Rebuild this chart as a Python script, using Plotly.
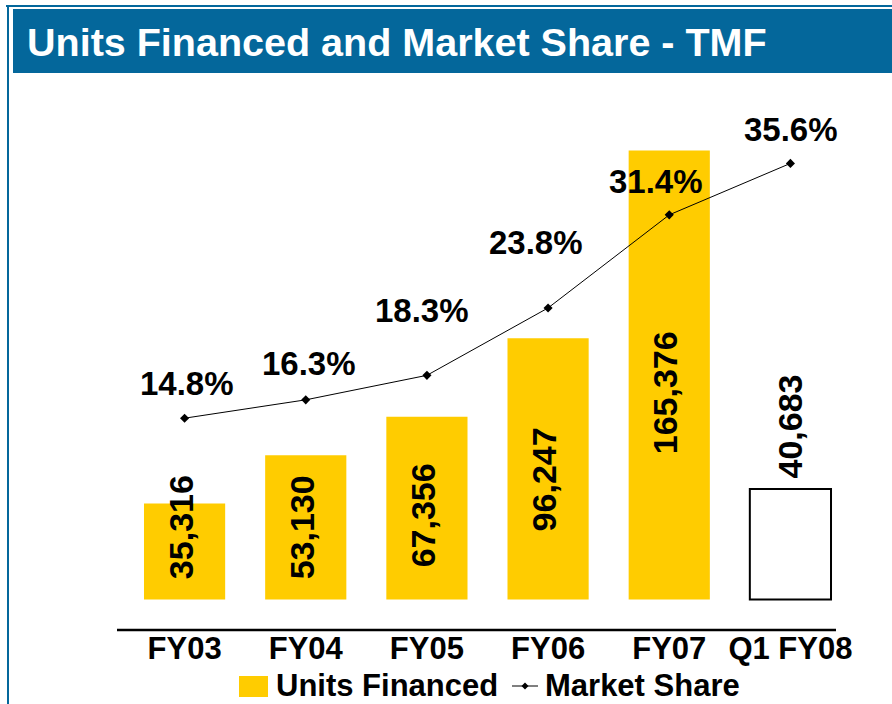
import plotly.graph_objects as go

# ---- data ----
categories = ["FY03", "FY04", "FY05", "FY06", "FY07", "Q1 FY08"]
units_financed = [35316, 53130, 67356, 96247, 165376, 40683]
market_share = [14.8, 16.3, 18.3, 23.8, 31.4, 35.6]
title_text = "Units Financed and Market Share - TMF"

# ---- layout geometry (pixels) ----
W, H = 892, 704
L, R, T, B = 124, 41, 100, 80
PW, PH = W - L - R, H - T - B
BOTTOM = H - B          # pixel y of plot-area bottom
ZERO_Y = 599.5          # pixel y of value zero (bars' base)
U_SCALE = 449 / 165376  # px per unit financed
S_SCALE = 12.25         # px per percent of share

# label placement offsets (pixels) for the market-share labels
share_label_dx = [2, 3, -5, -12, -13, 1]
share_label_dy = [35, 36, 65, 65, 33, 34]

def px(x):
    return (x - L) / PW

def py(y):
    return (BOTTOM - y) / PH

BLUE = "#04679B"
YELLOW = "#FFCC00"
FONT = "Liberation Sans, Arial, sans-serif"

n_full = len(categories) - 1
bar_colors = [YELLOW] * n_full + ["white"]
bar_line_colors = [YELLOW] * n_full + ["black"]
bar_line_widths = [0] * n_full + [2]

fig = go.Figure()
fig.add_trace(go.Bar(
    x=categories, y=units_financed, name="Units Financed",
    marker=dict(color=bar_colors, line=dict(color=bar_line_colors, width=bar_line_widths)),
    yaxis="y", showlegend=False, hoverinfo="x+y",
))
fig.add_trace(go.Scatter(
    x=categories, y=market_share, name="Market Share", mode="lines+markers",
    line=dict(color="black", width=1),
    marker=dict(symbol="diamond", size=7, color="black"),
    yaxis="y2", showlegend=False,
))

annotations = []
# market share labels
for c, v, sx, sy in zip(categories, market_share, share_label_dx, share_label_dy):
    annotations.append(dict(
        x=c, y=v, xref="x", yref="y2", text=f"{v:.1f}%", showarrow=False,
        xshift=sx, yshift=sy, yanchor="middle", xanchor="center",
        font=dict(family=FONT, size=33, color="black", weight="bold"),
    ))
# bar value labels
for i, (c, v) in enumerate(zip(categories, units_financed)):
    if i < n_full:
        annotations.append(dict(
            x=c, y=max(v * 0.46, 26500), xref="x", yref="y", text=f"{v:,}",
            showarrow=False, textangle=-90, yanchor="middle", xanchor="center",
            xshift=-4,
            font=dict(family=FONT, size=34, color="black", weight="bold"),
        ))
    else:
        annotations.append(dict(
            x=c, y=v, xref="x", yref="y", text=f"{v:,}",
            showarrow=False, textangle=-90, yanchor="bottom", xanchor="center",
            yshift=9,
            font=dict(family=FONT, size=34, color="black", weight="bold"),
        ))
# title
annotations.append(dict(
    x=px(25), y=py(42), xref="paper", yref="paper", text=title_text,
    showarrow=False, xanchor="left", yanchor="middle",
    font=dict(family=FONT, size=39.5, color="white", weight="bold"),
))
# legend texts
annotations.append(dict(
    x=px(275), y=py(685), xref="paper", yref="paper", text="Units Financed",
    showarrow=False, xanchor="left", yanchor="middle", borderpad=0,
    font=dict(family=FONT, size=31, color="black", weight="bold"),
))
annotations.append(dict(
    x=px(544), y=py(685), xref="paper", yref="paper", text="Market Share",
    showarrow=False, xanchor="left", yanchor="middle", borderpad=0,
    font=dict(family=FONT, size=31, color="black", weight="bold"),
))

dx, dy = 3.5 / PW, 3.5 / PH
cx, cy = px(525), py(686)
shapes = [
    # title bar
    dict(type="rect", xref="paper", yref="paper", x0=px(13), x1=px(W + 2), y0=py(73), y1=py(9),
         fillcolor=BLUE, line=dict(width=0), layer="below"),
    # top line
    dict(type="line", xref="paper", yref="paper", x0=px(6), x1=px(W + 2), y0=py(6), y1=py(6),
         line=dict(color=BLUE, width=2)),
    # left line
    dict(type="line", xref="paper", yref="paper", x0=px(8), x1=px(8), y0=py(6), y1=py(H + 2),
         line=dict(color=BLUE, width=2)),
    # x axis line
    dict(type="line", xref="paper", yref="paper", x0=px(117), x1=px(836), y0=py(630), y1=py(630),
         line=dict(color="black", width=2.5)),
    # legend: bar swatch
    dict(type="rect", xref="paper", yref="paper", x0=px(239), x1=px(268), y0=py(697), y1=py(676),
         fillcolor=YELLOW, line=dict(width=0)),
    # legend: line swatch
    dict(type="line", xref="paper", yref="paper", x0=px(512), x1=px(538), y0=cy, y1=cy,
         line=dict(color="black", width=1)),
    dict(type="path", xref="paper", yref="paper",
         path=f"M {cx-dx},{cy} L {cx},{cy+dy} L {cx+dx},{cy} L {cx},{cy-dy} Z",
         fillcolor="black", line=dict(color="black", width=0)),
]

fig.update_layout(
    width=W, height=H,
    margin=dict(l=L, r=R, t=T, b=B, pad=0),
    paper_bgcolor="white", plot_bgcolor="white",
    bargap=0.33,
    showlegend=False,
    xaxis=dict(
        type="category", range=[-0.5, len(categories) - 0.5],
        showline=False, showgrid=False, zeroline=False, ticks="",
        tickfont=dict(family=FONT, size=31, color="black", weight="bold"),
        ticklabelstandoff=3,
    ),
    yaxis=dict(range=[-(BOTTOM - ZERO_Y) / U_SCALE, (ZERO_Y - T) / U_SCALE],
               visible=False, showgrid=False, zeroline=False),
    yaxis2=dict(range=[-(BOTTOM - ZERO_Y) / S_SCALE, (ZERO_Y - T) / S_SCALE],
                overlaying="y", visible=False, showgrid=False, zeroline=False),
    annotations=annotations,
    shapes=shapes,
)

fig.write_html("out.html", config={"displayModeBar": False},
               post_script="document.body.style.margin='0';")
